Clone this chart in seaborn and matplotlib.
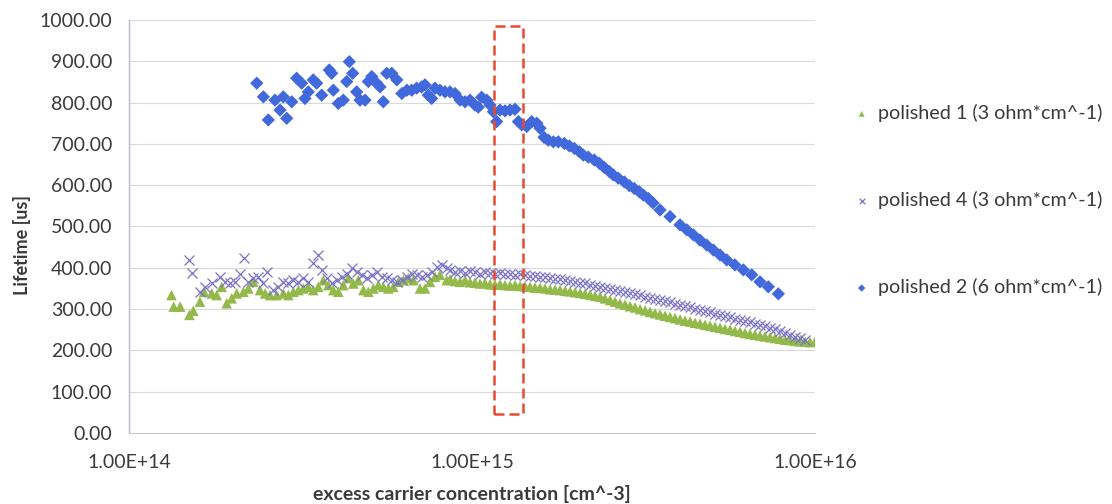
import matplotlib
matplotlib.use("Agg")
import matplotlib.pyplot as plt
import seaborn as sns
from matplotlib.patches import Rectangle
from matplotlib.ticker import FixedLocator, LogLocator, MultipleLocator, FuncFormatter, NullFormatter

# Excess carrier concentration values are stored in units of 1e14 cm^-3
UNIT = 1e14

# polished 1 (3 ohm*cm^-1)
p1_conc = [1.33, 1.35, 1.41, 1.50, 1.54, 1.61, 1.655, 1.743, 1.802, 1.863,
           1.927, 1.993, 2.061, 2.155, 2.228, 2.305, 2.410, 2.493, 2.577, 2.696,
           2.819, 2.915, 3.015, 3.118, 3.222, 3.333, 3.446, 3.564, 3.686, 3.812,
           3.942, 4.077, 4.216, 4.360, 4.509, 4.663, 4.823, 4.987, 5.157, 5.334,
           5.516, 5.704, 5.898, 6.101, 6.309, 6.524, 6.747, 7.053, 7.294, 7.543,
           7.801, 8.069, 8.440,
           8.628, 8.923, 9.228, 9.543, 9.869, 10.20, 10.55, 10.91, 11.28, 11.67,
           12.07, 12.48, 12.91, 13.35, 13.81, 14.28, 14.76, 15.27, 15.79, 16.33,
           16.89, 17.47, 18.06, 18.68, 19.32, 19.98, 20.66, 21.37, 22.08, 22.84,
           23.62, 24.42, 25.26, 26.12, 27.01, 27.94, 28.89, 29.88, 30.90, 31.96,
           33.04, 34.17, 35.34, 36.55, 37.79, 39.08, 40.41, 41.80, 43.22, 44.70,
           46.22, 47.80, 49.43, 51.12, 52.87, 54.67, 56.54, 58.47, 60.45, 62.52,
           64.65, 66.86, 69.14, 71.50, 73.94, 76.47, 79.08, 81.78, 84.57, 87.45,
           90.44, 93.53, 96.72, 100.0]
p1_life = [334, 306, 306, 286, 296, 318, 342, 338, 334, 354,
           314, 326, 338, 342, 350, 366, 346, 338, 334, 334,
           338, 334, 342, 346, 350, 354, 346, 354, 370, 358,
           346, 342, 358, 375, 362, 370, 346, 342, 350, 358,
           354, 350, 354, 366, 370, 375, 370, 350, 350, 366,
           378, 383, 370,
           372, 368, 366, 370, 365, 364, 362, 363, 360, 359,
           360, 358, 357, 358, 356, 355, 354, 352, 352, 350,
           348, 347, 346, 344, 343, 341, 339, 337, 335, 332,
           330, 326, 322, 318, 314, 311, 307, 304, 300, 297,
           293, 290, 287, 284, 281, 278, 275, 272, 270, 267,
           265, 262, 260, 257, 255, 252, 250, 247, 245, 242,
           240, 238, 236, 234, 232, 230, 228, 226, 225, 223,
           222, 221, 220, 221]

# polished 4 (3 ohm*cm^-1)
p4_conc = [1.499, 1.523, 1.611, 1.666, 1.743, 1.842, 1.905, 1.970, 2.038, 2.107,
           2.169, 2.228, 2.305, 2.384, 2.465, 2.522, 2.635, 2.725, 2.819, 2.915,
           3.015, 3.118, 3.222, 3.333, 3.446, 3.564, 3.646, 3.771, 3.899, 4.033,
           4.170, 4.313, 4.460, 4.612, 4.770, 4.933, 5.101, 5.276, 5.456, 5.642,
           5.834, 6.035, 6.241, 6.453, 6.674, 6.902, 7.134, 7.378, 7.630, 7.891,
           8.162, 8.440,
           8.628, 8.923, 9.228, 9.543, 9.869, 10.20, 10.55, 10.91, 11.28, 11.67,
           12.07, 12.48, 12.91, 13.35, 13.81, 14.28, 14.76, 15.27, 15.79, 16.33,
           16.89, 17.47, 18.06, 18.68, 19.32, 19.98, 20.66, 21.37, 22.08, 22.84,
           23.62, 24.42, 25.26, 26.12, 27.01, 27.94, 28.89, 29.88, 30.90, 31.96,
           33.04, 34.17, 35.34, 36.55, 37.79, 39.08, 40.41, 41.80, 43.22, 44.70,
           46.22, 47.80, 49.43, 51.12, 52.87, 54.67, 56.54, 58.47, 60.45, 62.52,
           64.65, 66.86, 69.14, 71.50, 73.94, 76.47, 79.08, 81.78, 84.57, 87.45,
           90.44, 93.53]
p4_life = [419, 388, 342, 354, 362, 378, 366, 362, 366, 386,
           423, 366, 375, 378, 362, 391, 346, 354, 366, 362,
           370, 366, 375, 366, 411, 431, 395, 375, 362, 370,
           378, 386, 399, 391, 383, 375, 383, 391, 378, 375,
           370, 366, 370, 378, 386, 383, 378, 383, 391, 403,
           407, 399,
           395, 390, 393, 388, 392, 390, 386, 390, 388, 385,
           388, 384, 386, 382, 385, 383, 380, 381, 378, 378,
           375, 374, 372, 370, 368, 366, 364, 362, 359, 357,
           354, 351, 348, 346, 343, 341, 339, 336, 333, 330,
           327, 324, 322, 319, 316, 313, 310, 307, 304, 301,
           298, 295, 292, 289, 286, 283, 280, 277, 274, 271,
           268, 265, 262, 258, 255, 251, 247, 242, 237, 233,
           229, 226]

# polished 2 (6 ohm*cm^-1)
p2_conc = [2.358, 2.465, 2.548, 2.665, 2.756, 2.818, 2.883, 2.982, 3.082, 3.187,
           3.259, 3.332, 3.445, 3.525, 3.646, 3.837, 3.899, 3.942, 4.076, 4.215,
           4.313, 4.389, 4.490, 4.610, 4.716, 4.877, 4.987, 5.102, 5.276, 5.394,
           5.514, 5.641, 5.834, 6.037, 6.245, 6.459, 6.671, 6.895, 7.134, 7.294,
           7.458, 7.630, 7.801, 8.069, 8.344, 8.628, 8.923, 9.228, 9.543, 9.869,
           10.20, 10.43, 10.67, 11.04, 11.29, 11.54, 11.80, 12.07, 12.48, 12.91,
           13.35, 13.66, 13.97, 14.44, 14.93, 15.45, 15.79, 16.22, 16.69, 17.27,
           17.85, 18.59, 19.23, 19.88, 20.56, 21.11, 21.83, 22.73, 23.51, 24.30,
           25.14, 25.82, 26.70, 27.80, 28.75, 29.73, 30.75, 31.59, 32.66, 33.71,
           35.34, 37.79, 40.41, 42.27, 44.18, 46.22, 48.34, 50.55, 52.87, 55.30,
           58.41, 61.82, 65.39, 69.14, 73.10, 78.19]
p2_life = [847, 814, 758, 806, 782, 814, 762, 802, 859, 847,
           810, 826, 855, 847, 818, 879, 871, 830, 798, 806,
           851, 899, 871, 826, 806, 806, 851, 863, 847, 838,
           802, 871, 871, 855, 822, 830, 830, 835, 838, 843,
           818, 810, 835, 830, 826, 826, 822, 806, 802, 806,
           794, 789, 813, 806, 794, 778, 754, 782, 780, 782,
           784, 754, 746, 742, 754, 750, 738, 716, 709, 705,
           705, 701, 695, 689, 681, 673, 668, 661, 653, 643,
           633, 625, 617, 608, 599, 592, 584, 576, 568, 557,
           540, 524, 504, 492, 480, 467, 455, 443, 431, 419,
           407, 395, 383, 366, 354, 337]

labels = ["polished 1 (3 ohm*cm^-1)", "polished 4 (3 ohm*cm^-1)", "polished 2 (6 ohm*cm^-1)"]
x_ticks = [1e14, 1e15, 1e16]
highlight_x = [1.16e15, 1.41e15]
highlight_y = [46, 985]

GREEN = "#93b94a"
PURPLE = "#7a72c6"
BLUE = "#4169dc"
TEXT = "#3a3a3a"

sns.set_theme(style="white")
plt.rcParams["font.family"] = ["Lato", "DejaVu Sans"]

fig = plt.figure(figsize=(11.12, 5.04), dpi=100)
ax = fig.add_axes([0.1160, 0.1409, 0.6169, 0.8194])

sns.scatterplot(x=[c * UNIT for c in p1_conc], y=p1_life, marker="^", s=58,
                color=GREEN, edgecolor="none", label=labels[0], ax=ax, zorder=3)
sns.scatterplot(x=[c * UNIT for c in p4_conc], y=p4_life, marker="x", s=52,
                color=PURPLE, linewidth=0.9, label=labels[1], ax=ax, zorder=3)
sns.scatterplot(x=[c * UNIT for c in p2_conc], y=p2_life, marker="D", s=46,
                color=BLUE, edgecolor="none", label=labels[2], ax=ax, zorder=4)

ax.add_patch(Rectangle((highlight_x[0], highlight_y[0]),
                       highlight_x[1] - highlight_x[0], highlight_y[1] - highlight_y[0],
                       fill=False, edgecolor="#e84a2e", linewidth=1.8,
                       linestyle=(0, (4, 2)), zorder=5))

ax.set_xscale("log")
ax.set_xlim(1e14, 1e16)
ax.set_ylim(0, 1000)
ax.xaxis.set_major_locator(FixedLocator(x_ticks))
ax.xaxis.set_major_formatter(FuncFormatter(lambda v, _: f"{v:.2E}"))
ax.xaxis.set_minor_locator(LogLocator(base=10, subs=range(2, 10)))
ax.xaxis.set_minor_formatter(NullFormatter())
ax.yaxis.set_major_locator(MultipleLocator(100))
ax.yaxis.set_major_formatter(FuncFormatter(lambda v, _: f"{v:.2f}"))

ax.tick_params(axis="x", which="both", direction="in", length=4, width=0.8,
               color="#a8a8a8", pad=15, labelsize=14, labelcolor=TEXT)
ax.tick_params(axis="y", length=0, pad=12, labelsize=14, labelcolor=TEXT)

ax.yaxis.grid(True, color="#d9d9d9", linewidth=0.8)
ax.xaxis.grid(False)
ax.set_axisbelow(True)
for side in ("top", "right"):
    ax.spines[side].set_visible(False)
ax.spines["left"].set_color("#b4bccb")
ax.spines["left"].set_linewidth(1.0)
ax.spines["bottom"].set_color("#c8c8c8")
ax.spines["bottom"].set_linewidth(0.8)

ax.set_xlabel("excess carrier concentration [cm^-3]", fontsize=14,
              fontweight="bold", color=TEXT)
ax.set_ylabel("Lifetime [us]", fontsize=13, fontweight="bold", color=TEXT)
ax.xaxis.set_label_coords(0.5, -0.125)
ax.yaxis.set_label_coords(-0.143, 0.455)

ax.legend(loc="center left", bbox_to_anchor=(0.766, 0.603),
          bbox_transform=fig.transFigure, frameon=False, fontsize=14.2,
          labelspacing=3.5, handlelength=1.0, handletextpad=0.34,
          markerscale=0.55, borderpad=0, borderaxespad=0,
          labelcolor=TEXT)

fig.savefig("out.png", dpi=100)
